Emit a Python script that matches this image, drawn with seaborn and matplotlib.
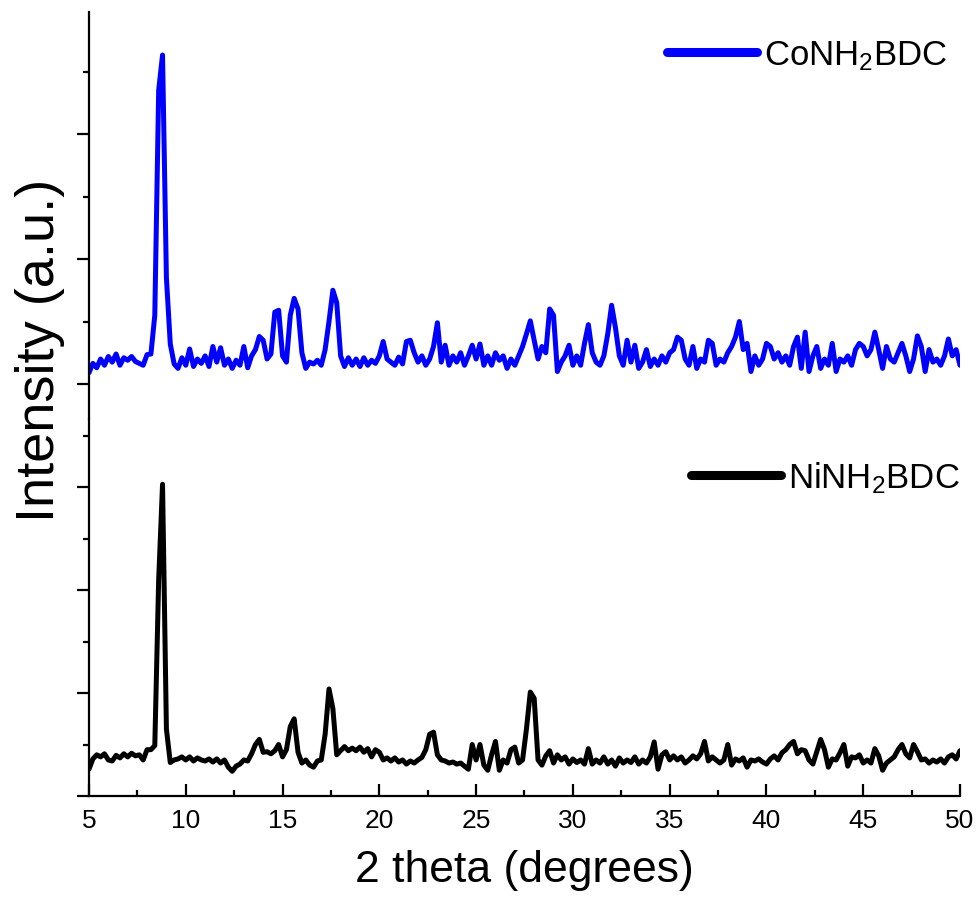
import numpy as np
import pandas as pd
import matplotlib
matplotlib.use("Agg")
import matplotlib.pyplot as plt
from matplotlib.ticker import MultipleLocator
import seaborn as sns

# measurement grid, 0.2 degree steps
two_theta = np.round(np.arange(5.0, 50.0001, 0.2), 1)

# CoNH2BDC intensity (a.u.)
co_intensity = [
    2180, 2330, 2260, 2400, 2300, 2440, 2350, 2480, 2300, 2420,
    2380, 2440, 2360, 2330, 2300, 2470, 2480, 3100, 6700, 7264,
    3700, 2640, 2320, 2250, 2420, 2300, 2560, 2280, 2400, 2330,
    2450, 2280, 2600, 2350, 2580, 2300, 2400, 2250, 2380, 2300,
    2600, 2260, 2450, 2550, 2760, 2700, 2400, 2480, 3150, 3180,
    2450, 2350, 3100, 3370, 3200, 2500, 2250, 2350, 2320, 2380,
    2300, 2550, 3000, 3500, 3300, 2450, 2280, 2420, 2300, 2400,
    2280, 2420, 2300, 2380, 2330, 2450, 2680, 2400, 2350, 2300,
    2430, 2320, 2680, 2700, 2500, 2350, 2450, 2300, 2400, 2600,
    2980, 2350, 2620, 2300, 2450, 2350, 2500, 2300, 2450, 2620,
    2400, 2640, 2300, 2450, 2300, 2500, 2380, 2450, 2250, 2400,
    2300, 2450, 2600, 2800, 3010, 2700, 2400, 2600, 2500, 3200,
    3100, 2200, 2350, 2450, 2620, 2300, 2450, 2300, 2650, 2950,
    2500, 2350, 2300, 2450, 2800, 3260, 2900, 2450, 2300, 2700,
    2350, 2620, 2250, 2350, 2550, 2280, 2400, 2300, 2450, 2350,
    2500, 2550, 2750, 2700, 2400, 2300, 2600, 2250, 2400, 2350,
    2700, 2650, 2300, 2400, 2350, 2500, 2600, 2750, 3000, 2550,
    2650, 2200, 2450, 2300, 2400, 2650, 2600, 2400, 2500, 2350,
    2450, 2300, 2600, 2750, 2250, 2830, 2200, 2450, 2600, 2250,
    2400, 2300, 2650, 2200, 2400, 2350, 2450, 2300, 2550, 2650,
    2600, 2450, 2550, 2830, 2550, 2250, 2600, 2400, 2350, 2500,
    2650, 2450, 2200, 2400, 2770, 2600, 2200, 2550, 2350, 2400,
    2300, 2450, 2720, 2450, 2550, 2300,
]

# NiNH2BDC intensity (a.u.)
ni_intensity = [
    520, 720, 800, 760, 820, 700, 680, 790, 740, 820,
    760, 830, 780, 800, 700, 900, 900, 980, 4200, 6060,
    1300, 650, 700, 720, 760, 700, 760, 680, 740, 700,
    680, 720, 660, 720, 640, 700, 560, 480, 580, 620,
    700, 680, 820, 1000, 1100, 850, 860, 820, 880, 1000,
    760, 900, 1350, 1500, 850, 640, 700, 600, 560, 680,
    700, 1200, 2080, 1700, 800, 880, 960, 880, 930, 880,
    950, 850, 920, 760, 900, 850, 700, 740, 680, 740,
    660, 700, 620, 680, 640, 700, 750, 900, 1200, 1240,
    800, 700, 680, 640, 660, 620, 640, 580, 520, 1000,
    700, 1000, 600, 500, 800, 1060, 500, 700, 640, 900,
    950, 640, 700, 1300, 2020, 1900, 700, 600, 780, 880,
    640, 800, 700, 760, 620, 720, 650, 700, 620, 920,
    620, 700, 640, 760, 620, 700, 580, 740, 640, 700,
    650, 760, 620, 700, 640, 760, 1050, 520, 800, 860,
    700, 780, 700, 760, 640, 700, 780, 720, 820, 1060,
    680, 760, 700, 640, 700, 1000, 600, 720, 680, 740,
    560, 700, 680, 720, 660, 620, 720, 780, 700, 840,
    900, 1000, 1060, 820, 900, 880, 700, 620, 860, 1100,
    900, 560, 720, 700, 840, 1000, 580, 760, 740, 800,
    640, 700, 640, 920, 780, 500, 640, 700, 760, 900,
    1000, 820, 740, 1000, 860, 700, 720, 640, 700, 660,
    720, 640, 760, 800, 720, 880,
]

co_label = r"CoNH$_2$BDC"
ni_label = r"NiNH$_2$BDC"

sns.set_style("ticks")
plt.rcParams["font.family"] = ["Liberation Sans", "DejaVu Sans"]
plt.rcParams["mathtext.fontset"] = "custom"
plt.rcParams["mathtext.rm"] = "Liberation Sans"
plt.rcParams["mathtext.it"] = "Liberation Sans:italic"
for key in ("text.color", "axes.labelcolor", "xtick.color", "ytick.color", "axes.edgecolor"):
    plt.rcParams[key] = "black"
plt.rcParams["xtick.direction"] = "in"
plt.rcParams["ytick.direction"] = "out"

df_co = pd.DataFrame({"two_theta": two_theta, "intensity": co_intensity})
df_ni = pd.DataFrame({"two_theta": two_theta, "intensity": ni_intensity})

fig = plt.figure(figsize=(9.8, 9.04), dpi=100)
ax_top = fig.add_axes([0.0908, 0.5354, 0.8888, 0.4502])
ax_bot = fig.add_axes([0.0908, 0.1184, 0.8888, 0.4170], sharex=ax_top)

sns.lineplot(data=df_co, x="two_theta", y="intensity", ax=ax_top,
             color="#0000ff", lw=3.6, label=co_label, estimator=None,
             solid_joinstyle="round", solid_capstyle="round")
sns.lineplot(data=df_ni, x="two_theta", y="intensity", ax=ax_bot,
             color="black", lw=3.6, label=ni_label, estimator=None,
             solid_joinstyle="round", solid_capstyle="round")

ax_top.set_xlim(5, 50)
ax_top.set_ylim(1440, 7952)
ax_bot.set_ylim(0, 7330)

for ax in (ax_top, ax_bot):
    for side in ("top", "right"):
        ax.spines[side].set_visible(False)
    ax.spines["left"].set_linewidth(1.6)
    ax.spines["bottom"].set_linewidth(1.6)
    ax.yaxis.set_major_locator(MultipleLocator(2000))
    ax.yaxis.set_minor_locator(MultipleLocator(1000))
    ax.tick_params(axis="y", which="major", direction="out", length=9, width=1.6, labelleft=False)
    ax.tick_params(axis="y", which="minor", direction="out", length=4.5, width=1.6)
    ax.set_ylabel("")
    ax.set_xlabel("")

ax_top.spines["bottom"].set_visible(False)
ax_top.tick_params(axis="x", which="both", bottom=False, labelbottom=False)

ax_bot.xaxis.set_major_locator(MultipleLocator(5))
ax_bot.xaxis.set_minor_locator(MultipleLocator(2.5))
ax_bot.tick_params(axis="x", which="major", direction="in", length=9, width=1.6, labelsize=19, pad=9)
ax_bot.tick_params(axis="x", which="minor", direction="in", length=4.5, width=1.6)
ax_bot.set_xlabel("2 theta (degrees)", fontsize=32, labelpad=12)

fig.text(0.041, 0.612, "Intensity (a.u.)", rotation=90, fontsize=39, ha="center", va="center")

leg = ax_top.legend(loc="center right", bbox_to_anchor=(0.986, 0.895), frameon=False,
                    fontsize=25, handlelength=2.6, handletextpad=0.2, borderpad=0, borderaxespad=0)
for h in leg.get_lines():
    h.set_linewidth(6.5)
    h.set_solid_capstyle("round")
leg = ax_bot.legend(loc="center right", bbox_to_anchor=(1.0, 0.846), frameon=False,
                    fontsize=25, handlelength=2.6, handletextpad=0.2, borderpad=0, borderaxespad=0)
for h in leg.get_lines():
    h.set_linewidth(6.5)
    h.set_solid_capstyle("round")

fig.savefig("out.png", dpi=100)
